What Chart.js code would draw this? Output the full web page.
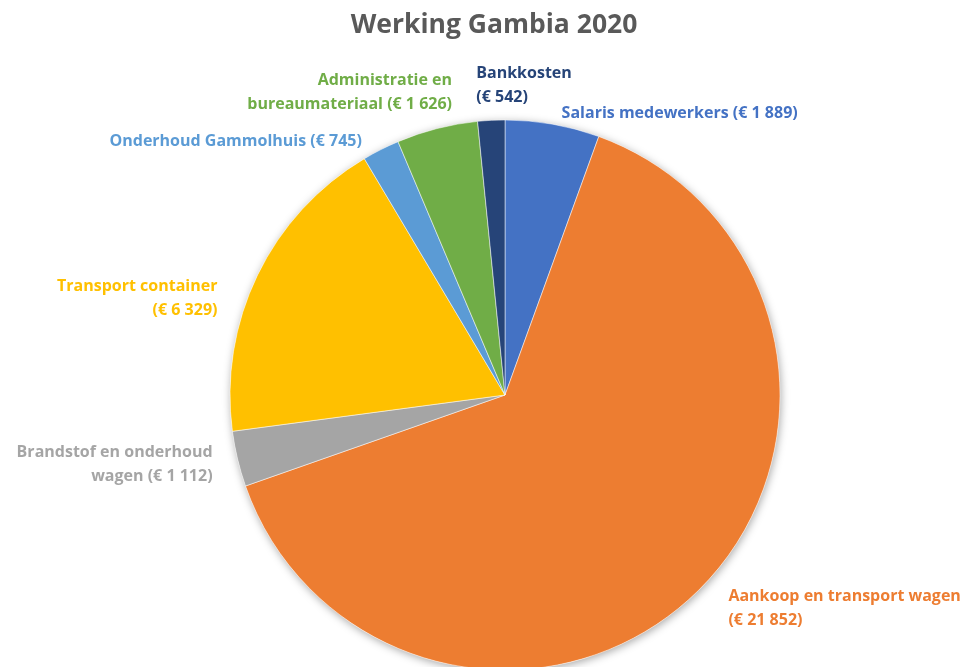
<!DOCTYPE html>
<html>
<head>
<meta charset="utf-8">
<script src="https://cdn.jsdelivr.net/npm/chart.js@4/dist/chart.umd.min.js"></script>
<style>
  html, body { margin: 0; padding: 0; background: #fff; }
  #wrap { width: 970px; height: 667px; }
</style>
</head>
<body>
<div id="wrap"><canvas id="graph" width="970" height="667"></canvas></div>
<script>
const title = 'Werking Gambia 2020'
const categories = [
  'Salaris medewerkers',
  'Aankoop en transport wagen',
  'Brandstof en onderhoud wagen',
  'Transport container',
  'Onderhoud Gammolhuis',
  'Administratie en bureaumateriaal',
  'Bankkosten'
]
const amounts = [1889, 21852, 1112, 6329, 745, 1626, 542]
const colors = ['#4472C4', '#ED7D31', '#A5A5A5', '#FFC000', '#5B9BD5', '#70AD47', '#264478']

// how each label wraps, plus where it sits relative to the slice edge
const labelLines = [
  ['Salaris medewerkers (€ 1 889)'],
  ['Aankoop en transport wagen', '(€ 21 852)'],
  ['Brandstof en onderhoud', 'wagen (€ 1 112)'],
  ['Transport container', '(€ 6 329)'],
  ['Onderhoud Gammolhuis (€ 745)'],
  ['Administratie en', 'bureaumateriaal (€ 1 626)'],
  ['Bankkosten', '(€ 542)']
]
const labelPlace = [
  { align: 'left', dx: 9, dy: -11 },
  { align: 'left', dx: 30, dy: 18 },
  { align: 'right', dx: -25, dy: 5 },
  { align: 'right', dx: -40, dy: 23 },
  { align: 'right', dx: -19, dy: -8 },
  { align: 'right', dx: 15, dy: -36 },
  { align: 'left', dx: -15, dy: -35 }
]

const FONT = '"Open Sans", sans-serif'

const outsideLabels = {
  id: 'outsideLabels',
  beforeDatasetsDraw(chart) {
    // soft shadow behind the whole pie
    const arc = chart.getDatasetMeta(0).data[0]
    if (!arc) return
    const ctx = chart.ctx
    ctx.save()
    ctx.shadowColor = 'rgba(0,0,0,0.35)'
    ctx.shadowBlur = 8
    ctx.shadowOffsetX = 1
    ctx.shadowOffsetY = 2
    ctx.fillStyle = '#fff'
    ctx.beginPath()
    ctx.arc(arc.x, arc.y, arc.outerRadius, 0, Math.PI * 2)
    ctx.fill()
    ctx.restore()
  },
  afterDraw(chart) {
    const ctx = chart.ctx
    ctx.save()
    ctx.fillStyle = '#595959'
    ctx.font = 'bold 26.5px ' + FONT
    ctx.textAlign = 'center'
    ctx.textBaseline = 'middle'
    ctx.fillText(title, 494, 25)

    ctx.font = 'bold 16px ' + FONT
    chart.getDatasetMeta(0).data.forEach((el, i) => {
      const p = el.getProps(['x', 'y', 'startAngle', 'endAngle', 'outerRadius'], true)
      const mid = (p.startAngle + p.endAngle) / 2
      const ex = p.x + Math.cos(mid) * p.outerRadius
      const ey = p.y + Math.sin(mid) * p.outerRadius
      const place = labelPlace[i]
      const lines = labelLines[i]
      const lh = 24
      const top = ey + place.dy - (lines.length - 1) * lh / 2
      ctx.fillStyle = colors[i]
      ctx.textAlign = place.align
      lines.forEach((t, j) => ctx.fillText(t, ex + place.dx, top + j * lh))
    })
    ctx.restore()
  }
}

const graph = new Chart(document.getElementById('graph'), {
  type: 'pie',
  data: {
    labels: categories,
    datasets: [{
      data: amounts,
      backgroundColor: colors,
      borderColor: '#fff',
      borderWidth: 0.5,
      radius: 275
    }]
  },
  options: {
    responsive: false,
    animation: false,
    layout: { padding: { left: 230, right: 190, top: 123, bottom: 0 } },
    plugins: {
      legend: { display: false },
      tooltip: { enabled: false },
      title: { display: false }
    }
  },
  plugins: [outsideLabels]
})
</script>
</body>
</html>
